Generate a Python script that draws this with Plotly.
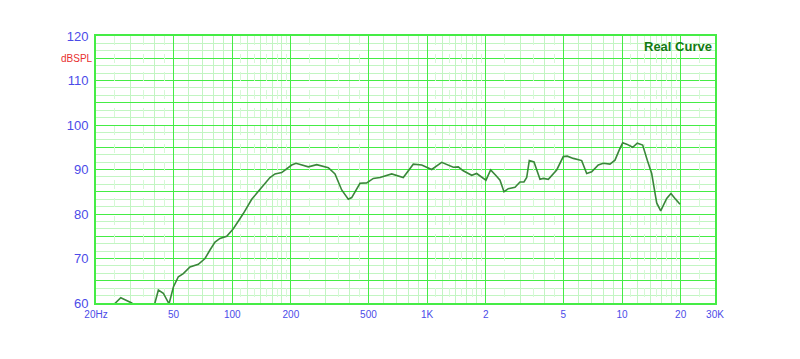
import numpy as np
import plotly.graph_objects as go

# ---- data ----
freq_hz = [23, 26.8, 30.5, 35, 40, 41.8, 44.3, 47.4, 49.9, 52.9, 56.1, 60.7, 67.0, 72.5, 76.9,
           81.6, 86.5, 93.7, 101.3, 114, 125.9, 138.8, 156.2, 165.7, 179.4, 201.9, 212.5,
           245.8, 271.4, 311.2, 336.8, 364.5, 394.1, 410.3, 452.4, 489.8, 529.5, 573.3, 658,
           754.6, 849.2, 938.1, 1055.6, 1187.6, 1362.6, 1445, 1533, 1694, 1796, 2004, 2118,
           2248, 2366, 2480, 2610, 2824, 2996, 3140, 3243, 3344, 3535, 3795, 3945, 4187, 4622,
           4996, 5238, 5624, 6210, 6589, 6989, 7555, 8016, 8676, 9204, 9683, 10080, 10568,
           11346, 11978, 12765, 13481, 14200, 15065, 15794, 16954, 17834, 18696, 19843]
spl_db = [58.3, 61.2, 60.0, 57.5, 59.8, 62.9, 62.2, 59.8, 63.6, 65.9, 66.6, 68.1, 68.7, 70.0, 71.9,
          73.7, 74.5, 75.0, 76.7, 80.1, 83.3, 85.5, 88.2, 89.0, 89.3, 91.0, 91.4,
          90.6, 91.1, 90.4, 89.0, 85.4, 83.3, 83.7, 86.9, 87.0, 88.0, 88.2, 89.0,
          88.2, 91.2, 91.0, 90.0, 91.6, 90.5, 90.6, 89.7, 88.7, 89.1, 87.6, 89.9,
          88.7, 87.6, 85.0, 85.7, 86.0, 87.2, 87.2, 88.2, 92.0, 91.7, 87.8, 88.0, 87.8, 89.9,
          92.9, 93.0, 92.5, 92.0, 89.1, 89.5, 91.0, 91.4, 91.2, 92.1, 94.4, 96.0, 95.7,
          95.0, 95.9, 95.5, 92.1, 89.1, 82.5, 80.7, 83.5, 84.6, 83.5, 82.2]

x_major = [20, 50, 100, 200, 500, 1000, 2000, 5000, 10000, 20000, 30000]
x_labels = ["20Hz", "50", "100", "200", "500", "1K", "2", "5", "10", "20", "30K"]
x_minor_solid = [30, 40, 60, 70, 80, 90,
                 120, 140, 160, 180, 300, 400, 600, 700, 800, 900,
                 1200, 1400, 1600, 1800, 3000, 4000, 6000, 7000, 8000, 9000,
                 12000, 14000, 16000, 18000]
x_minor_dash = [25, 35, 45, 110, 130, 150, 170, 190, 250, 350, 450,
                1100, 1300, 1500, 1700, 1900, 2500, 3500, 4500,
                11000, 13000, 15000, 17000, 19000, 25000]

y_major = [60, 65, 70, 75, 80, 85, 90, 95, 100, 105, 110, 115, 120]
y_labels = ["60", "", "70", "", "80", "", "90", "", "100", "", "110", "", "120"]
y_minor = [v + d for v in range(60, 120, 5) for d in (5 / 3, 10 / 3)]

BRIGHT = "#45ec45"
LIGHT = "#c2f5c2"
FAINT = "#d6f9d6"
BLUE = "#4b4be8"

fig = go.Figure()
fig.add_trace(go.Scatter(x=freq_hz, y=spl_db, mode="lines",
                         line=dict(color="#3a873a", width=1.6),
                         showlegend=False, hoverinfo="skip"))
# dummy trace to register the dashed-grid overlay axis
fig.add_trace(go.Scatter(x=[None], y=[None], xaxis="x2", yaxis="y",
                         showlegend=False, hoverinfo="skip"))

xr = [np.log10(20), np.log10(30000)]
fig.update_layout(
    width=800, height=359,
    margin=dict(l=96, r=85, t=36, b=56),
    paper_bgcolor="white", plot_bgcolor="white",
    font=dict(family="Liberation Sans, Arial, sans-serif"),
    xaxis2=dict(type="log", range=xr, overlaying="x", showgrid=True,
                tickvals=x_minor_dash, gridcolor=FAINT, griddash="dash", gridwidth=1,
                showticklabels=False, ticks="", zeroline=False, showline=False,
                layer="below traces"),
    xaxis=dict(type="log", range=xr, tickvals=x_major, ticktext=x_labels,
               showgrid=True, gridcolor=BRIGHT, gridwidth=1.2,
               minor=dict(tickvals=x_minor_solid, showgrid=True, gridcolor=LIGHT, gridwidth=1, ticks=""),
               ticks="", showline=True, linecolor=BRIGHT, linewidth=2, mirror=True,
               tickfont=dict(color=BLUE, size=10), zeroline=False, ticklabelstandoff=1),
    yaxis=dict(range=[60, 120], tickvals=y_major, ticktext=y_labels,
               showgrid=True, gridcolor=BRIGHT, gridwidth=1.2,
               minor=dict(tickvals=y_minor, showgrid=True, gridcolor=LIGHT, gridwidth=1, ticks=""),
               ticks="", showline=True, linecolor=BRIGHT, linewidth=2, mirror=True,
               tickfont=dict(color=BLUE, size=13), zeroline=False, ticklabelstandoff=3),
    annotations=[
        dict(text="dBSPL", xref="paper", x=0, xanchor="right", xshift=-1,
             yref="y", y=115, yanchor="middle", showarrow=False,
             font=dict(color="#e83030", size=10)),
        dict(text="<b>Real Curve</b>", xref="paper", x=1, xanchor="right", xshift=-1,
             yref="paper", y=1, yanchor="top", yshift=-1, showarrow=False,
             font=dict(color="#137a13", size=13)),
    ],
)

fig.write_html("out.html")
